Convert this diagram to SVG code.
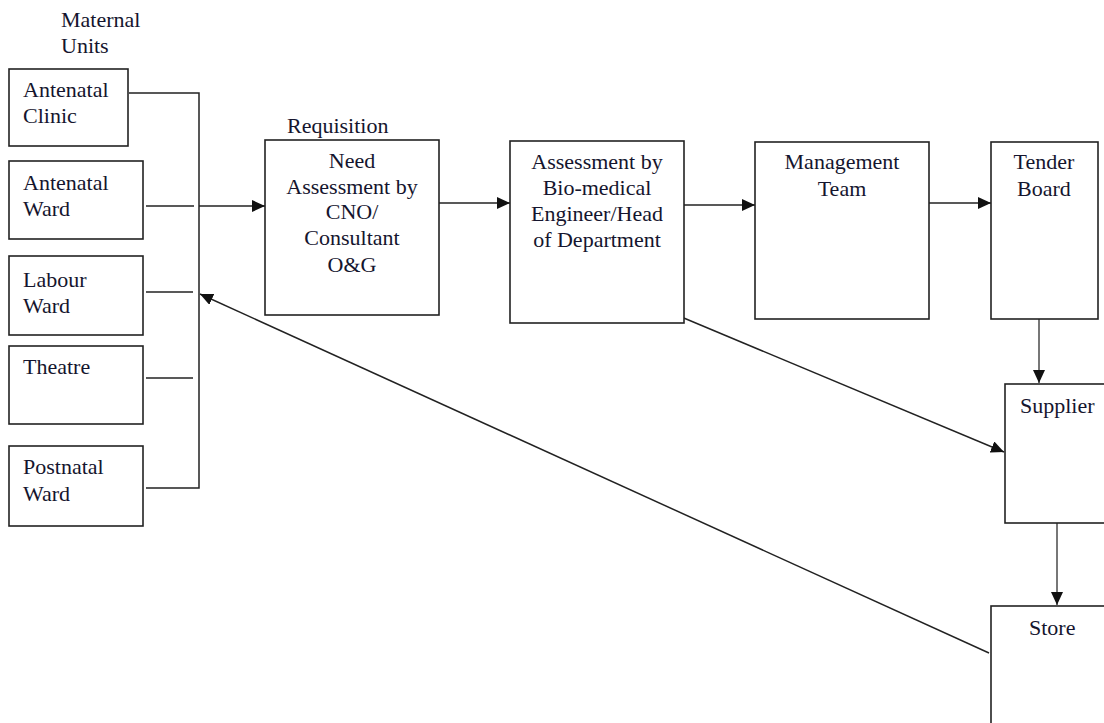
<svg xmlns="http://www.w3.org/2000/svg" width="1104" height="723" viewBox="0 0 1104 723">
<style>
.box{fill:#fff;stroke:#222;stroke-width:1.6}
.t{font-family:"Liberation Serif","Times New Roman",serif;font-size:22px;fill:#15152e}
.c{text-anchor:middle}
.ln{fill:none;stroke:#222;stroke-width:1.5}
.lg{fill:none;stroke:#777;stroke-width:2}
</style>
<defs>
<marker id="ah" markerUnits="userSpaceOnUse" markerWidth="14" markerHeight="12" refX="13" refY="6" orient="auto">
<path d="M0,0 L13,6 L0,12 Z" fill="#111"/>
</marker>
</defs>
<rect width="1104" height="723" fill="#fff"/>
<text class="t" x="61" y="27">Maternal</text>
<text class="t" x="61" y="53">Units</text>
<text class="t" x="287" y="133">Requisition</text>
<g id="connectors">
<polyline class="ln" points="129,93 199,93 199,488 146,488"/>
<line class="ln" x1="146" y1="206" x2="194" y2="206"/>
<line class="ln" x1="199" y1="206" x2="265" y2="206" marker-end="url(#ah)"/>
<line class="ln" x1="146" y1="292" x2="193" y2="292"/>
<line class="ln" x1="146" y1="378" x2="193" y2="378"/>
<line class="ln" x1="439" y1="203" x2="510" y2="203" marker-end="url(#ah)"/>
<line class="ln" x1="684" y1="205" x2="755" y2="205" marker-end="url(#ah)"/>
<line class="ln" x1="929" y1="203" x2="991" y2="203" marker-end="url(#ah)"/>
<line class="lg" x1="1039" y1="315" x2="1039" y2="383" marker-end="url(#ah)"/>
<line class="ln" x1="679" y1="316" x2="1004" y2="452" marker-end="url(#ah)"/>
<line class="lg" x1="1057" y1="523" x2="1057" y2="605" marker-end="url(#ah)"/>
<line class="ln" x1="989" y1="653" x2="200" y2="294" marker-end="url(#ah)"/>
</g>
<g id="antenatal-clinic"><rect class="box" x="9" y="69" width="119" height="77"/>
<text class="t" x="23" y="97">Antenatal</text><text class="t" x="23" y="123">Clinic</text></g>
<g id="antenatal-ward"><rect class="box" x="9" y="161" width="134" height="78"/>
<text class="t" x="23" y="190">Antenatal</text><text class="t" x="23" y="216">Ward</text></g>
<g id="labour-ward"><rect class="box" x="9" y="256" width="134" height="79"/>
<text class="t" x="23" y="287">Labour</text><text class="t" x="23" y="313">Ward</text></g>
<g id="theatre"><rect class="box" x="9" y="346" width="134" height="78"/>
<text class="t" x="23" y="374">Theatre</text></g>
<g id="postnatal-ward"><rect class="box" x="9" y="446" width="134" height="80"/>
<text class="t" x="23" y="474">Postnatal</text><text class="t" x="23" y="501">Ward</text></g>
<g id="need-assessment"><rect class="box" x="265" y="140" width="174" height="175"/>
<text class="t c" x="352" y="168">Need</text>
<text class="t c" x="352" y="194">Assessment by</text>
<text class="t c" x="352" y="219">CNO/</text>
<text class="t c" x="352" y="245">Consultant</text>
<text class="t c" x="352" y="272">O&amp;G</text></g>
<g id="biomedical-assessment"><rect class="box" x="510" y="141" width="174" height="182"/>
<text class="t c" x="597" y="169">Assessment by</text>
<text class="t c" x="597" y="195">Bio-medical</text>
<text class="t c" x="597" y="221">Engineer/Head</text>
<text class="t c" x="597" y="247">of Department</text></g>
<g id="management-team"><rect class="box" x="755" y="142" width="174" height="177"/>
<text class="t c" x="842" y="169">Management</text>
<text class="t c" x="842" y="196">Team</text></g>
<g id="tender-board"><rect class="box" x="991" y="142" width="107" height="177"/>
<text class="t c" x="1044" y="169">Tender</text>
<text class="t c" x="1044" y="196">Board</text></g>
<g id="supplier"><rect class="box" x="1005" y="384" width="120" height="139"/>
<text class="t" x="1020" y="413">Supplier</text></g>
<g id="store"><rect class="box" x="991" y="606" width="140" height="140"/>
<text class="t" x="1029" y="635">Store</text></g>
</svg>
